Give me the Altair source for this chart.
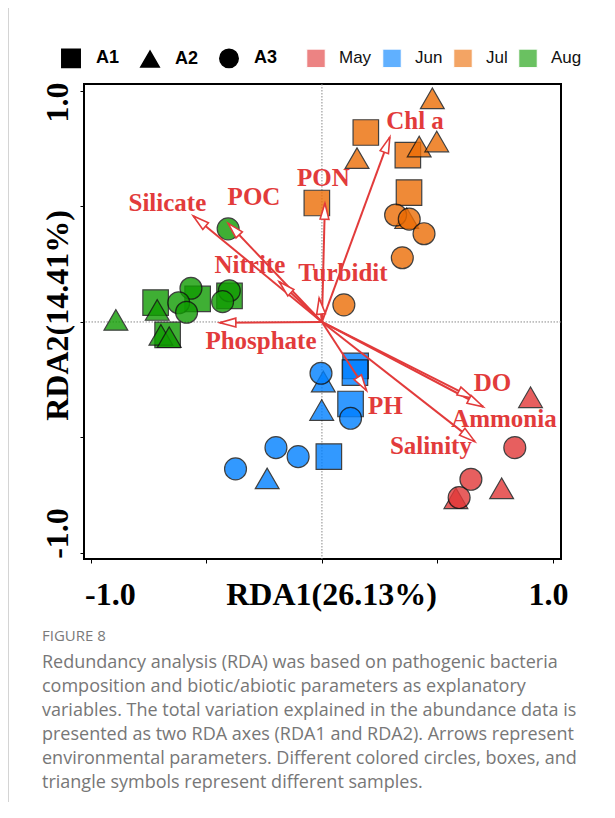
import altair as alt
import pandas as pd
import numpy as np

# ---------------- sample scores (RDA1, RDA2) ----------------
month = (["May"] * 6 + ["Jun"] * 12 + ["Jul"] * 14 + ["Aug"] * 14)
sample = (["A2", "A2", "A2", "A3", "A3", "A3"]
          + ["A1"] * 4 + ["A2"] * 3 + ["A3"] * 5
          + ["A1"] * 4 + ["A2"] * 5 + ["A3"] * 5
          + ["A1"] * 4 + ["A2"] * 4 + ["A3"] * 6)
rda1 = [0.903, 0.778, 0.580, 0.835, 0.645, 0.594,
        0.146, 0.143, 0.124, 0.030, 0.006, -0.001, -0.237,
        -0.004, 0.124, -0.199, -0.103, -0.374,
        0.190, 0.372, 0.377, -0.022, 0.478, 0.152, 0.421, 0.497, 0.367,
        0.319, 0.378, 0.442, 0.348, 0.095,
        -0.720, -0.538, -0.400, -0.668, -0.892, -0.713, -0.697, -0.661,
        -0.406, -0.567, -0.620, -0.586, -0.401, -0.430]
rda2 = [-0.326, -0.720, -0.763, -0.544, -0.681, -0.760,
        -0.190, -0.219, -0.355, -0.583, -0.258, -0.381, -0.677,
        -0.222, -0.417, -0.544, -0.583, -0.636,
        0.820, 0.722, 0.560, 0.515, 0.968, 0.709, 0.759, 0.781, 0.449,
        0.463, 0.445, 0.382, 0.278, 0.074,
        0.084, 0.100, 0.113, -0.056, 0.009, 0.052, -0.056, -0.066,
        0.403, 0.146, 0.083, 0.042, 0.135, 0.088]

# ---------------- environmental vectors ----------------
env_names = ["Chl a", "PON", "POC", "Silicate", "Nitrite", "Turbidit",
             "Phosphate", "DO", "Ammonia", "Salinity", "PH"]
env_x = [0.294, 0.013, -0.406, -0.557, -0.185, -0.012, -0.442, 0.655, 0.698, 0.662, 0.193]
env_y = [0.800, 0.514, 0.427, 0.459, 0.174, 0.103, -0.003, -0.330, -0.367, -0.518, -0.297]
label_x = [0.403, 0.006, -0.294, -0.669, -0.312, 0.091, -0.264, 0.738, 0.788, 0.472, 0.275]
label_y = [0.870, 0.623, 0.541, 0.515, 0.247, 0.212, -0.082, -0.264, -0.418, -0.537, -0.364]

month_order = ["May", "Jun", "Jul", "Aug"]
month_colors = ["#E23838", "#0080FF", "#EC6D06", "#109C02"]
sample_order = ["A1", "A2", "A3"]
sample_shapes = ["square", "triangle-up", "circle"]
size_keys = ["size-A1", "size-A2", "size-A3"]
sample_sizes = [650, 480, 650]

caption_head = "FIGURE 8"
caption_lines = [
    "Redundancy analysis (RDA) was based on pathogenic bacteria",
    "composition and biotic/abiotic parameters as explanatory",
    "variables. The total variation explained in the abundance data is",
    "presented as two RDA axes (RDA1 and RDA2). Arrows represent",
    "environmental parameters. Different colored circles, boxes, and",
    "triangle symbols represent different samples.",
]

RED = "#E23B3B"
SERIF = "Liberation Serif"

pts = pd.DataFrame({"month": month, "sample": sample, "RDA1": rda1, "RDA2": rda2})
pts["marker_size"] = "size-" + pts["sample"]
env = pd.DataFrame({"name": env_names, "x": env_x, "y": env_y,
                    "lx": label_x, "ly": label_y})
env["x0"] = 0.0
env["y0"] = 0.0
env["angle"] = np.degrees(np.arctan2(env["x"], env["y"])) % 360
zero = pd.DataFrame({"v": [0.0]})
cap_head = pd.DataFrame({"t": [caption_head]})
cap_body = pd.DataFrame({"t": ["\n".join(caption_lines)]})

xdom = [-1.03, 1.035]
ydom = [-1.026, 1.03]
xscale = alt.Scale(domain=xdom, nice=False, zero=False)
yscale = alt.Scale(domain=ydom, nice=False, zero=False)

xaxis = alt.Axis(
    values=[-1, -0.5, 0, 0.5, 1],
    labelExpr="datum.value == 1 ? '1.0' : (datum.value == -1 ? '-1.0' : '')",
    labelFont=SERIF, labelFontWeight="bold", labelFontSize=32, labelColor="black",
    labelAlign="center", labelBaseline="alphabetic", labelPadding=41,
    labelOffset={"condition": {"test": "datum.value < 0", "value": 19}, "value": -5},
    labelFlush=False, labelOverlap=False,
    tickSize=4, tickColor="black", tickWidth=1, domain=False, grid=False,
    title="RDA1(26.13%)", titleFont=SERIF, titleFontWeight="bold", titleFontSize=32,
    titleColor="black", titleX=247, titleY=45, titleAlign="center",
    titleBaseline="alphabetic",
)
yaxis = alt.Axis(
    values=[-1, -0.5, 0, 0.5, 1],
    labelExpr="datum.value == 1 ? '1.0' : (datum.value == -1 ? '-1.0' : '')",
    labelFont=SERIF, labelFontWeight="bold", labelFontSize=32, labelColor="black",
    labelAngle=270, labelAlign="center", labelBaseline="alphabetic", labelPadding=13,
    labelOffset={"condition": {"test": "datum.value > 0", "value": 11}, "value": -20},
    labelFlush=False, labelOverlap=False,
    tickSize=4, tickColor="black", tickWidth=1, domain=False, grid=False,
    title="RDA2(14.41%)", titleFont=SERIF, titleFontWeight="bold", titleFontSize=32,
    titleColor="black", titleAngle=270, titleX=-17, titleY=231, titleAlign="center",
    titleBaseline="alphabetic",
)

page_line = alt.Chart(zero).mark_rule(color="#d4d4d4", strokeWidth=2).encode(
    x=alt.value(-76), y=alt.value(-76), y2=alt.value(718))

vline = alt.Chart(zero).mark_rule(color="#8a8a8a", strokeWidth=1, strokeDash=[1.5, 1.5]).encode(
    x=alt.X("v:Q", scale=xscale, axis=xaxis))
hline = alt.Chart(zero).mark_rule(color="#8a8a8a", strokeWidth=1, strokeDash=[1.5, 1.5]).encode(
    y=alt.Y("v:Q", scale=yscale, axis=yaxis))

points = alt.Chart(pts).mark_point(
    filled=True, opacity=0.8, stroke="#111111", strokeWidth=1.2
).encode(
    x=alt.X("RDA1:Q", scale=xscale, axis=xaxis),
    y=alt.Y("RDA2:Q", scale=yscale, axis=yaxis),
    color=alt.Color("month:N", scale=alt.Scale(domain=month_order, range=month_colors),
                    legend=alt.Legend(
                        orient="none", legendX=222, legendY=-36, direction="horizontal",
                        title=None, padding=0, symbolType="square", symbolSize=340,
                        symbolStrokeColor="white", symbolStrokeWidth=1,
                        symbolOpacity=0.62,
                        labelFont="Liberation Sans", labelFontSize=17, labelColor="#111111",
                        labelOffset=13, columnPadding=8)),
    shape=alt.Shape("sample:N", scale=alt.Scale(domain=sample_order, range=sample_shapes),
                    legend=alt.Legend(
                        orient="none", legendX=-23, legendY=-36, direction="horizontal",
                        title=None, padding=0, symbolSize=340,
                        symbolFillColor="black", symbolStrokeColor="black",
                        symbolOpacity=1,
                        labelFont="Liberation Sans", labelFontWeight="bold",
                        labelFontSize=18, labelColor="black",
                        labelOffset=15, columnPadding=17)),
    size=alt.Size("marker_size:N", scale=alt.Scale(domain=size_keys, range=sample_sizes),
                  legend=None),
)

arrows = alt.Chart(env).mark_rule(color=RED, strokeWidth=2).encode(
    x=alt.X("x0:Q", scale=xscale), y=alt.Y("y0:Q", scale=yscale),
    x2="x:Q", y2="y:Q")

heads = alt.Chart(env).mark_point(
    shape="M0,0L-0.55,2L0.55,2Z", filled=True, fill="white", stroke=RED,
    strokeWidth=1.6, opacity=1, size=256
).encode(
    x=alt.X("x:Q", scale=xscale), y=alt.Y("y:Q", scale=yscale),
    angle=alt.Angle("angle:Q", scale=None))

labels = alt.Chart(env).mark_text(
    font=SERIF, fontWeight="bold", fontSize=25, color=RED,
    align="center", baseline="middle"
).encode(
    x=alt.X("lx:Q", scale=xscale), y=alt.Y("ly:Q", scale=yscale), text="name:N")

head_text = alt.Chart(cap_head).mark_text(
    font="Open Sans", fontSize=15, color="#7a7a7a", align="left", baseline="middle"
).encode(x=alt.value(-42), y=alt.value(552), text="t:N")

body_text = alt.Chart(cap_body).mark_text(
    font="Open Sans", fontSize=18, color="#777777", align="left", baseline="middle",
    lineBreak="\n", lineHeight=24
).encode(x=alt.value(-42), y=alt.value(579), text="t:N")

chart = alt.layer(
    page_line, vline, hline, points, arrows, heads, labels, head_text, body_text
).properties(
    width=477, height=475,
    autosize=alt.AutoSizeParams(type="none"),
    padding={"left": 76, "top": 76, "right": 46, "bottom": 250},
    background="white",
).configure_view(
    stroke="black", strokeWidth=2
)

chart.save("out.html", embed_options={"renderer": "svg", "actions": False})
